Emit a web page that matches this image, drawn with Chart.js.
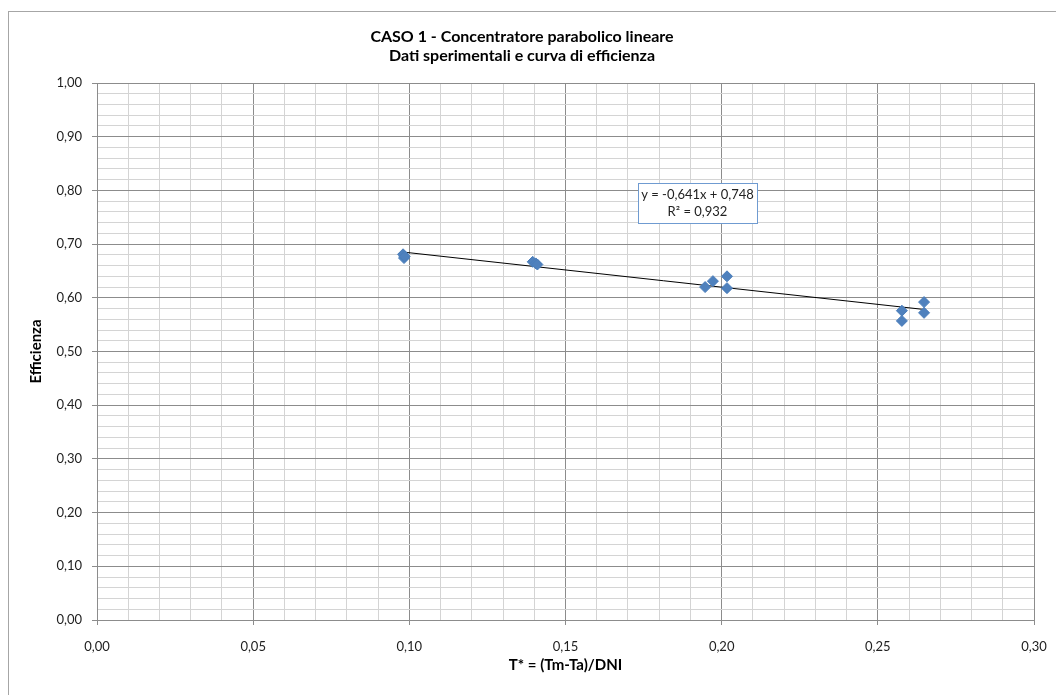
<!DOCTYPE html>
<html>
<head>
<meta charset="utf-8">
<script src="https://cdn.jsdelivr.net/npm/chart.js@4.4.0/dist/chart.umd.min.js"></script>
<style>
  html, body { margin: 0; padding: 0; background: #fff; }
  #wrap { width: 1056px; height: 695px; position: relative; }
</style>
</head>
<body>
<div id="wrap"><canvas id="chart" width="1056" height="695"></canvas></div>
<script>
// misure sperimentali: T* = (Tm-Ta)/DNI ed efficienza
const tStar = [0.0980, 0.0983, 0.0985, 0.1395, 0.1405, 0.1410, 0.1947, 0.1972, 0.2017, 0.2017, 0.2577, 0.2577, 0.2648, 0.2648];
const efficienza = [0.681, 0.674, 0.677, 0.667, 0.664, 0.662, 0.620, 0.631, 0.640, 0.618, 0.576, 0.557, 0.592, 0.572];

// coefficienti della linea di tendenza (come riportati nel grafico)
const slope = -0.641;
const intercept = 0.748;
const r2 = 0.932;

const titleLines = ['CASO 1 - Concentratore parabolico lineare', 'Dati sperimentali e curva di efficienza'];
const xTitle = 'T* = (Tm-Ta)/DNI';
const yTitle = 'Efficienza';

const fmt = (v, d) => v.toFixed(d).replace('.', ',');
const near = (v, step) => Math.abs(v / step - Math.round(v / step)) < 1e-6;

const xMin = Math.min(...tStar);
const xMax = Math.max(...tStar);
const trend = [
  { x: xMin, y: slope * xMin + intercept },
  { x: xMax, y: slope * xMax + intercept }
];

const FONT = 'Lato';
const MAJOR = '#8c8c8c';
const MINOR = '#d4d4d4';

const frame = {
  id: 'frame',
  beforeDraw(chart) {
    const ctx = chart.ctx;
    ctx.save();
    ctx.fillStyle = '#fff';
    ctx.fillRect(0, 0, chart.width, chart.height);
    ctx.strokeStyle = '#a6a6a6';
    ctx.lineWidth = 1;
    ctx.strokeRect(8.5, 11.5, 1200, 1000);
    ctx.restore();
  },
  afterDraw(chart) {
    // etichetta equazione della tendenza
    const ctx = chart.ctx;
    const a = chart.chartArea;
    const x0 = a.left + 541, y0 = a.top + 100, w = 119, h = 40;
    ctx.save();
    ctx.fillStyle = '#fff';
    ctx.fillRect(x0, y0, w, h);
    ctx.strokeStyle = '#6f9bd1';
    ctx.lineWidth = 1;
    ctx.strokeRect(x0 + 0.5, y0 + 0.5, w, h);
    ctx.fillStyle = '#222';
    ctx.font = '13px ' + FONT;
    ctx.textAlign = 'center';
    ctx.textBaseline = 'middle';
    ctx.fillText('y = ' + fmt(slope, 3) + 'x + ' + fmt(intercept, 3), x0 + w / 2, y0 + 12);
    ctx.fillText('R² = ' + fmt(r2, 3), x0 + w / 2, y0 + 29);
    ctx.restore();
  }
};

new Chart(document.getElementById('chart'), {
  type: 'scatter',
  data: {
    datasets: [
      {
        label: 'Dati sperimentali',
        data: tStar.map((x, i) => ({ x: x, y: efficienza[i] })),
        pointStyle: 'rectRot',
        pointRadius: 5.5,
        backgroundColor: '#4f81bd',
        borderColor: '#4a7ebb',
        borderWidth: 1
      },
      {
        label: 'Tendenza',
        type: 'line',
        data: trend,
        borderColor: '#000',
        borderWidth: 1,
        pointRadius: 0,
        fill: false
      }
    ]
  },
  options: {
    responsive: false,
    animation: false,
    layout: { padding: { left: 10, right: 22, top: 27, bottom: 10 } },
    plugins: {
      legend: { display: false },
      tooltip: { enabled: false },
      title: {
        display: true,
        text: titleLines,
        color: '#000',
        font: { family: FONT, size: 16, weight: 'bold', lineHeight: '19px' },
        padding: { top: 0, bottom: 18 }
      }
    },
    scales: {
      x: {
        type: 'linear',
        min: 0,
        max: 0.3,
        ticks: {
          stepSize: 0.01,
          autoSkip: false,
          maxRotation: 0,
          padding: 14,
          color: '#222',
          font: { family: FONT, size: 13 },
          callback: (v) => near(v, 0.05) ? fmt(v, 2) : ''
        },
        grid: {
          color: (c) => near(c.tick.value, 0.05) ? MAJOR : MINOR,
          tickColor: (c) => near(c.tick.value, 0.05) ? MAJOR : 'rgba(0,0,0,0)',
          tickLength: 5
        },
        border: { color: MAJOR },
        title: {
          display: true,
          text: xTitle,
          color: '#000',
          font: { family: FONT, size: 15, weight: 'bold' },
          padding: { top: 0, bottom: 11 }
        },
        afterFit: (s) => { s.height = 65; s.paddingLeft = 0; s.paddingRight = 0; }
      },
      y: {
        min: 0,
        max: 1,
        ticks: {
          stepSize: 0.02,
          autoSkip: false,
          padding: 10,
          color: '#222',
          font: { family: FONT, size: 13 },
          callback: (v) => near(v, 0.1) ? fmt(v, 2) : ''
        },
        grid: {
          color: (c) => near(c.tick.value, 0.1) ? MAJOR : MINOR,
          tickColor: (c) => near(c.tick.value, 0.1) ? MAJOR : 'rgba(0,0,0,0)',
          tickLength: 5
        },
        border: { color: MAJOR },
        title: {
          display: true,
          text: yTitle,
          color: '#000',
          font: { family: FONT, size: 15, weight: 'bold' },
          padding: { top: 17, bottom: 0 }
        },
        afterFit: (s) => { s.width = 87; s.paddingTop = 0; s.paddingBottom = 0; }
      }
    }
  },
  plugins: [frame]
});
</script>
</body>
</html>
